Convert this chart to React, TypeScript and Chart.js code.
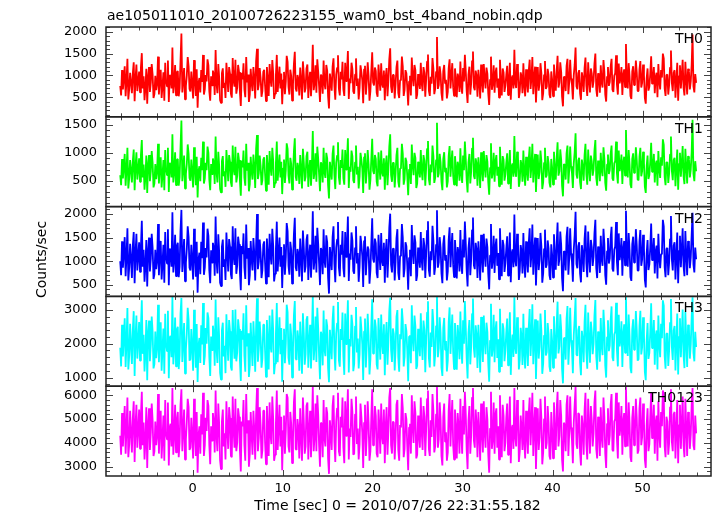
import { useEffect, useRef } from "react";
import { Chart, registerables } from "chart.js";

Chart.register(...registerables);

const chartTitle = "ae105011010_20100726223155_wam0_bst_4band_nobin.qdp";
const xAxisTitle = "Time [sec] 0 = 2010/07/26 22:31:55.182";
const yAxisTitle = "Counts/sec";
const bandNames = ["TH0", "TH1", "TH2", "TH3", "TH0123"];
const bandColors = ["#ff0000", "#00ff00", "#0000ff", "#00ffff", "#ff00ff"];

const startTime = -8.05;
const binSize = 0.1;

const th0 = [
  760, 540, 1120, 680, 940, 1210, 520, 870, 1380, 450, 690, 1060, 830, 590, 1040, 1300, 410, 920, 1250, 640, 870, 1090, 610, 1180, 1510, 700, 980, 430, 720, 1150, 350, 960,
  1190, 620, 840, 1260, 1020, 480, 570, 990, 660, 810, 1430, 560, 910, 1130, 480, 760, 1070, 420, 1290, 880, 750, 1340, 390, 1010, 960, 700, 1640, 590, 820, 1240, 540, 1070,
  1100, 520, 700, 1330, 1960, 610, 880, 1170, 450, 760, 1000, 1420, 1210, 690, 630, 1090, 790, 470, 1350, 900, 530, 1140, 260, 820, 940, 610, 1120, 850, 1470, 560, 680, 1010,
  860, 1370, 1230, 640, 420, 980, 770, 1110, 1010, 550, 1580, 820, 590, 1260, 940, 430, 370, 1050, 1160, 710, 830, 480, 1290, 970, 620, 1190, 1040, 580, 490, 1400, 880, 740,
  1360, 580, 720, 1240, 1080, 620, 300, 1060, 910, 1280, 680, 500, 1420, 840, 1020, 390, 560, 1150, 830, 640, 1190, 930, 470, 1320, 1610, 660, 790, 1170, 950, 510, 640, 1080,
  1130, 760, 410, 1190, 880, 530, 1260, 910, 740, 1350, 1050, 460, 580, 1000, 1470, 620, 930, 1200, 700, 1040, 340, 890, 1080, 570, 860, 1450, 1310, 730, 560, 1130, 990, 420,
  790, 1260, 1540, 700, 630, 1010, 920, 540, 1180, 870, 450, 1320, 1030, 610, 710, 1160, 1250, 480, 880, 1080, 520, 940, 1700, 660, 820, 1230, 600, 1370, 1090, 760, 390, 1020,
  970, 580, 1340, 810, 680, 1240, 1110, 520, 240, 1040, 860, 650, 1200, 1390, 750, 440, 1020, 1170, 1460, 690, 540, 1080, 910, 1310, 680, 530, 1290, 870, 1060, 1560, 460, 930,
  820, 1290, 1150, 630, 580, 1020, 1390, 760, 930, 450, 710, 1230, 1080, 890, 360, 1140, 1220, 560, 860, 1300, 990, 420, 640, 1090, 1530, 840, 770, 1180, 1100, 600, 510, 1250,
  940, 650, 1280, 800, 720, 1110, 430, 960, 1170, 520, 880, 1370, 1620, 740, 600, 1010, 1010, 470, 790, 1190, 1340, 600, 480, 890, 920, 1430, 1200, 530, 670, 1120, 1050, 720,
  310, 860, 990, 540, 1410, 980, 750, 1240, 1120, 460, 560, 1030, 870, 690, 1290, 820, 640, 1190, 1060, 510, 920, 1320, 1480, 650, 530, 970, 810, 1400, 1150, 570, 690, 1080,
  1880, 690, 780, 1210, 1030, 590, 420, 1100, 1240, 820, 900, 470, 620, 1160, 1370, 700, 1010, 1280, 730, 530, 1160, 900, 500, 1040, 940, 620, 1320, 760, 580, 1170, 860, 1470,
  1090, 640, 370, 1020, 1200, 560, 820, 1330, 1550, 730, 660, 1110, 990, 510, 1130, 860, 470, 1250, 880, 610, 1260, 940, 700, 1180, 1040, 580, 320, 900, 1430, 670, 810, 1230,
  600, 1050, 1180, 720, 930, 490, 1360, 840, 540, 1160, 1070, 620, 760, 1010, 1220, 550, 880, 1290, 440, 930, 1000, 700, 1590, 810, 710, 1260, 1140, 480, 630, 1070, 970, 590,
  1280, 780, 520, 1140, 850, 610, 1110, 1360, 690, 930, 1420, 570, 960, 1200, 380, 880, 1190, 650, 820, 1280, 1050, 430, 590, 1010, 1330, 690, 740, 1150, 1010, 560, 480, 1090,
  900, 520, 1250, 870, 650, 1100, 1450, 720, 830, 1300, 1080, 510, 290, 970, 960, 640, 1210, 1380, 570, 860, 1360, 930, 790, 450, 1000, 1240, 1640, 750, 680, 1050, 1120, 590,
  440, 1070, 930, 620, 1170, 1410, 760, 530, 1300, 890, 610, 1160, 1040, 720, 870, 1270, 1500, 680, 510, 1050, 980, 600, 1230, 840, 720, 1350, 1090, 560, 400, 970, 1190, 760,
  850, 1200, 1380, 670, 620, 990, 1050, 1460, 780, 560, 1270, 820, 940, 1190, 550, 1010, 1140, 730, 1720, 910, 700, 1280, 990, 530, 460, 1090, 1210, 780, 880, 1340, 1070, 640,
  640, 1140, 1330, 720, 830, 1250, 1010, 480, 350, 930, 1160, 650, 740, 1030, 1440, 810, 900, 1190, 590, 960, 1060, 500, 1260, 870, 680, 1120, 950, 1500, 1390, 700, 530, 1010,
  1020, 560, 780, 1180, 1570, 830, 640, 1060, 1120, 490, 890, 1290, 420, 980, 1230, 700, 1000, 1360, 720, 540, 1310, 910, 560, 1150, 1090, 680, 860, 1240, 1940, 750, 610, 1030,
  830,
];

const th1 = [
  600, 420, 890, 540, 740, 980, 410, 700, 1090, 360, 550, 870, 680, 470, 850, 1060, 330, 750, 1010, 520, 700, 900, 480, 960, 1230, 560, 790, 340, 570, 950, 280, 780,
  960, 490, 670, 1030, 820, 380, 450, 800, 530, 660, 1160, 450, 730, 920, 380, 610, 870, 330, 1050, 720, 600, 1090, 300, 820, 780, 560, 1330, 470, 650, 1010, 420, 870,
  890, 410, 560, 1080, 1580, 490, 710, 950, 360, 620, 800, 1150, 980, 550, 500, 880, 640, 380, 1100, 730, 420, 930, 200, 670, 760, 490, 910, 690, 1200, 450, 540, 820,
  690, 1110, 1000, 520, 330, 800, 620, 900, 820, 440, 1290, 660, 470, 1020, 760, 350, 290, 850, 940, 580, 670, 390, 1050, 790, 490, 960, 840, 470, 390, 1130, 710, 600,
  1110, 470, 580, 1000, 870, 500, 230, 860, 740, 1040, 550, 410, 1160, 680, 820, 310, 440, 930, 670, 520, 970, 750, 370, 1070, 1320, 530, 630, 950, 770, 420, 510, 880,
  920, 610, 320, 960, 710, 430, 1030, 740, 590, 1090, 850, 370, 460, 810, 1200, 500, 750, 970, 560, 840, 260, 720, 880, 460, 690, 1170, 1070, 590, 450, 910, 800, 340,
  640, 1020, 1260, 570, 500, 820, 740, 440, 960, 700, 360, 1070, 830, 490, 570, 940, 1020, 390, 710, 870, 410, 760, 1390, 530, 660, 990, 480, 1110, 890, 610, 310, 830,
  780, 470, 1090, 650, 550, 1000, 900, 420, 180, 840, 690, 520, 980, 1130, 600, 350, 820, 950, 1190, 560, 430, 870, 730, 1060, 540, 430, 1050, 700, 860, 1260, 370, 750,
  660, 1040, 940, 510, 460, 830, 1130, 610, 750, 360, 570, 1000, 880, 720, 280, 920, 990, 450, 690, 1050, 800, 340, 510, 880, 1250, 680, 620, 960, 890, 480, 400, 1010,
  760, 520, 1040, 650, 580, 900, 340, 770, 950, 420, 710, 1110, 1330, 600, 480, 820, 820, 380, 630, 960, 1090, 490, 380, 720, 740, 1160, 980, 430, 530, 910, 850, 580,
  240, 700, 800, 440, 1150, 790, 600, 1000, 910, 370, 450, 840, 700, 560, 1050, 660, 510, 960, 860, 410, 740, 1070, 1210, 530, 420, 790, 650, 1130, 940, 460, 550, 870,
  1540, 560, 630, 980, 830, 480, 330, 890, 1010, 660, 730, 380, 490, 940, 1120, 570, 820, 1040, 590, 430, 940, 730, 400, 840, 760, 500, 1080, 620, 460, 950, 690, 1200,
  880, 520, 290, 830, 980, 450, 660, 1080, 1270, 590, 530, 900, 800, 410, 920, 700, 370, 1010, 710, 490, 1030, 760, 560, 960, 840, 470, 250, 730, 1170, 540, 650, 1000,
  480, 850, 960, 590, 750, 400, 1110, 680, 430, 940, 870, 500, 610, 820, 990, 450, 710, 1050, 350, 760, 810, 570, 1300, 660, 570, 1020, 930, 390, 500, 870, 780, 480,
  1040, 640, 410, 930, 690, 500, 900, 1110, 550, 760, 1160, 470, 780, 980, 300, 720, 970, 530, 660, 1040, 850, 350, 470, 820, 1090, 560, 600, 940, 820, 460, 380, 890,
  730, 430, 1020, 710, 520, 900, 1190, 590, 670, 1060, 880, 410, 220, 800, 780, 520, 990, 1130, 450, 700, 1110, 760, 640, 370, 810, 1010, 1350, 610, 540, 860, 910, 480,
  350, 880, 750, 500, 960, 1160, 610, 430, 1060, 720, 490, 950, 840, 590, 700, 1040, 1230, 550, 410, 860, 790, 490, 1000, 690, 580, 1100, 890, 460, 320, 790, 970, 620,
  690, 980, 1130, 540, 500, 810, 850, 1200, 630, 450, 1040, 670, 760, 970, 440, 830, 930, 590, 1410, 740, 560, 1050, 800, 430, 370, 890, 990, 640, 710, 1100, 870, 520,
  510, 930, 1090, 580, 670, 1020, 820, 390, 280, 760, 950, 530, 600, 840, 1180, 660, 730, 980, 470, 790, 860, 410, 1030, 710, 550, 920, 770, 1240, 1140, 570, 420, 830,
  830, 460, 630, 970, 1290, 680, 510, 870, 910, 400, 720, 1060, 340, 800, 1000, 570, 810, 1120, 580, 440, 1070, 750, 450, 940, 890, 560, 700, 1010, 1590, 620, 490, 850,
  670,
];

const th2 = [
  1000, 700, 1420, 860, 1190, 1510, 680, 1100, 1700, 590, 870, 1370, 1050, 640, 1330, 1620, 530, 1160, 1580, 800, 1100, 1400, 770, 1290, 1860, 880, 1240, 560, 910, 1450, 460, 1200,
  1500, 780, 1060, 1580, 1290, 620, 720, 1240, 830, 1010, 1790, 700, 1150, 1430, 610, 950, 1350, 540, 1620, 1100, 950, 1680, 490, 1270, 1210, 880, 2040, 760, 1030, 1560, 680, 1320,
  1390, 660, 880, 1640, 2090, 770, 1110, 1470, 570, 960, 1260, 1740, 1510, 860, 800, 1350, 1000, 610, 1690, 1130, 670, 1410, 330, 1030, 1180, 720, 1410, 1060, 1820, 710, 860, 1280,
  1080, 1690, 1540, 800, 530, 1230, 970, 1390, 1270, 690, 1950, 1030, 740, 1570, 1180, 540, 470, 1310, 1460, 880, 1040, 600, 1610, 1190, 780, 1470, 1310, 720, 620, 1740, 1110, 920,
  1700, 730, 910, 1520, 1360, 770, 380, 1320, 1150, 1590, 860, 620, 1780, 1050, 1280, 490, 700, 1430, 1040, 800, 1490, 1160, 590, 1330, 2000, 830, 990, 1460, 1190, 640, 810, 1350,
  1420, 950, 520, 1480, 1110, 660, 1580, 1140, 930, 1690, 1320, 570, 730, 1250, 1840, 780, 1170, 1500, 880, 1300, 430, 1110, 1360, 710, 1080, 1810, 1640, 900, 710, 1410, 1240, 520,
  990, 1570, 1920, 870, 790, 1260, 1160, 670, 1480, 1080, 570, 1650, 1290, 760, 890, 1450, 1570, 600, 1110, 1350, 650, 1170, 2060, 820, 1030, 1540, 760, 1710, 1370, 950, 490, 1280,
  1220, 720, 1680, 1010, 860, 1550, 1400, 650, 310, 1300, 1080, 810, 1510, 1740, 940, 550, 1280, 1460, 1830, 860, 680, 1350, 1140, 1640, 850, 660, 1620, 1090, 1330, 1950, 580, 1160,
  1030, 1610, 1440, 790, 730, 1280, 1740, 950, 1170, 560, 890, 1540, 1360, 1110, 450, 1430, 1530, 700, 1080, 1310, 1240, 520, 800, 1360, 1910, 1050, 970, 1480, 1380, 750, 640, 1560,
  1180, 810, 1600, 1000, 900, 1390, 540, 1200, 1470, 650, 1100, 1710, 2010, 920, 760, 1260, 1270, 590, 990, 1490, 1680, 750, 600, 1110, 1160, 1790, 1500, 660, 840, 1400, 1320, 900,
  390, 1070, 1240, 680, 1770, 1220, 940, 1550, 1400, 580, 700, 1290, 1090, 860, 1620, 1020, 800, 1490, 1330, 640, 1160, 1650, 1850, 810, 670, 1210, 1020, 1750, 1440, 710, 870, 1350,
  2080, 860, 980, 1510, 1290, 740, 530, 1370, 1550, 1020, 1130, 590, 780, 1450, 1720, 870, 1270, 1600, 920, 660, 1450, 1120, 630, 1300, 1180, 780, 1660, 950, 730, 1460, 1080, 1840,
  1370, 800, 460, 1270, 1500, 700, 1030, 1660, 1930, 910, 830, 1390, 1240, 640, 1420, 1080, 590, 1560, 1100, 760, 1580, 1170, 880, 1480, 1300, 720, 400, 1120, 1790, 840, 1020, 1540,
  750, 1310, 1480, 900, 1170, 610, 1700, 1050, 680, 1450, 1340, 770, 950, 1260, 1530, 690, 1100, 1610, 550, 1160, 1250, 870, 1990, 1010, 890, 1580, 1430, 600, 790, 1340, 1210, 740,
  1600, 970, 650, 1420, 1060, 760, 1390, 1700, 870, 1160, 1780, 710, 1200, 1500, 480, 1100, 1490, 810, 1030, 1600, 1320, 540, 740, 1260, 1670, 860, 930, 1440, 1270, 700, 600, 1360,
  1130, 650, 1570, 1090, 820, 1380, 1820, 900, 1040, 1630, 1350, 640, 360, 1210, 1200, 800, 1520, 1730, 710, 1080, 1700, 1160, 990, 560, 1250, 1550, 2050, 940, 850, 1320, 1400, 740,
  550, 1340, 1160, 770, 1470, 1760, 950, 660, 1630, 1110, 760, 1450, 1300, 900, 1090, 1590, 1880, 850, 640, 1310, 1230, 750, 1540, 1050, 900, 1690, 1370, 700, 500, 1210, 1490, 950,
  1060, 1500, 1730, 840, 780, 1240, 1310, 1830, 980, 700, 1590, 1020, 1180, 1490, 690, 1260, 1430, 910, 2070, 1140, 880, 1600, 1240, 660, 580, 1360, 1520, 970, 1100, 1680, 1340, 800,
  800, 1420, 1660, 900, 1040, 1560, 1270, 600, 440, 1160, 1450, 810, 930, 1290, 1800, 1020, 1130, 1490, 740, 1200, 1330, 630, 1580, 1090, 850, 1150, 1190, 1880, 1740, 870, 660, 1260,
  1280, 700, 980, 1470, 1960, 1040, 800, 1330, 1400, 610, 1110, 1610, 530, 1220, 1540, 870, 1250, 1700, 900, 680, 1640, 1140, 700, 1430, 1360, 850, 1080, 1550, 2030, 930, 760, 1290,
  1040,
];

const th3 = [
  1880, 1330, 2560, 1620, 2190, 2750, 1310, 2050, 3050, 1240, 1660, 2590, 1950, 1400, 2400, 2960, 1050, 2150, 2830, 1560, 2040, 2640, 1500, 2480, 3280, 1700, 2260, 1180, 1720, 2700, 920, 2300,
  2680, 1480, 1980, 2800, 2350, 1270, 1400, 2360, 1570, 1900, 3150, 1450, 2110, 2630, 1200, 1860, 2450, 1110, 2880, 1990, 1780, 2970, 980, 2180, 2230, 1600, 3380, 1390, 1920, 2770, 1330, 2420,
  2500, 1250, 1650, 2890, 3350, 1460, 2060, 2610, 1120, 1840, 2300, 3060, 2700, 1500, 1540, 2430, 1870, 1200, 3000, 2090, 1290, 2580, 870, 1940, 2170, 1430, 2540, 1980, 3200, 1370, 1640, 2460,
  2000, 2920, 2750, 1610, 1050, 2210, 1810, 2530, 2290, 1350, 3300, 1850, 1430, 2780, 2180, 1140, 940, 2390, 2620, 1620, 1940, 1130, 2870, 2100, 1500, 2700, 2370, 1310, 1210, 2990, 2060, 1560,
  3010, 1480, 1740, 2720, 2430, 1520, 900, 2380, 2120, 2900, 1640, 1170, 3130, 1920, 2310, 1020, 1350, 2620, 1930, 1340, 2660, 2080, 1170, 2480, 3340, 1470, 1850, 2650, 2190, 1290, 1560, 2560,
  2560, 1760, 1020, 2700, 2060, 1240, 2830, 1930, 1740, 3010, 2380, 1100, 1410, 2290, 3200, 1450, 2160, 2780, 1690, 2460, 880, 2100, 2440, 1420, 2010, 3150, 2930, 1590, 1380, 2590, 2250, 1000,
  1850, 2840, 3260, 1560, 1520, 2390, 2130, 1200, 2650, 1900, 1110, 2900, 2320, 1380, 1690, 2710, 2810, 1290, 2050, 2560, 1270, 2240, 3390, 1510, 1930, 2800, 1460, 3060, 2460, 1630, 950, 2350,
  2240, 1360, 2980, 1830, 1630, 2720, 2520, 1280, 860, 2410, 2000, 1540, 2700, 3120, 1770, 1210, 2300, 2600, 3230, 1510, 1320, 2430, 2110, 2920, 1620, 1080, 2890, 1990, 2400, 3280, 1150, 2140,
  1920, 2850, 2580, 1190, 1400, 2510, 3080, 1740, 2150, 1270, 1700, 2800, 2440, 1990, 930, 2360, 2740, 1300, 2000, 2880, 2240, 1090, 1530, 2510, 3310, 1710, 1820, 2710, 2490, 1390, 1240, 2760,
  2170, 1530, 2860, 2020, 1700, 2570, 1070, 2130, 2640, 1380, 2040, 2960, 3360, 1820, 1460, 2450, 2290, 1210, 1850, 2800, 2990, 1600, 1170, 2280, 2130, 3040, 2670, 1330, 1610, 2580, 2380, 1790,
  890, 2210, 2250, 1420, 3130, 2160, 1780, 2830, 2520, 1250, 1350, 2440, 2010, 1630, 2900, 2050, 1520, 2680, 2390, 1160, 2120, 2920, 3250, 1570, 1300, 2330, 1900, 3020, 2590, 1330, 1680, 2520,
  3380, 1600, 1860, 2780, 2330, 1290, 1050, 2470, 2760, 1820, 2080, 1180, 1500, 2620, 3070, 1700, 2290, 2860, 1740, 1250, 2610, 2010, 1230, 2550, 2170, 1540, 2950, 1900, 1410, 2690, 2000, 3260,
  2460, 1560, 970, 2310, 2700, 1390, 1920, 2880, 3330, 1860, 1590, 2540, 2240, 1280, 2560, 1940, 1150, 2790, 2050, 1460, 2830, 2130, 1690, 2620, 2350, 1400, 880, 2090, 3180, 1620, 1890, 2850,
  1450, 2390, 2660, 1580, 2130, 1170, 3030, 1720, 1310, 2600, 2420, 1480, 1790, 2330, 2740, 1360, 2030, 2930, 1080, 1950, 2270, 1610, 3370, 1880, 1700, 2780, 2570, 1240, 1520, 2470, 2200, 1370,
  2880, 1730, 1270, 2470, 1960, 1340, 2490, 3020, 1640, 2210, 3160, 1390, 2170, 2720, 960, 2000, 2680, 1560, 1910, 2890, 2380, 1110, 1410, 2240, 2990, 1650, 1750, 2610, 2290, 1320, 1170, 2430,
  2060, 1290, 2810, 1990, 1560, 2540, 3240, 1710, 1930, 2870, 2430, 1250, 830, 2150, 2180, 1530, 2730, 3110, 1380, 1980, 3060, 2100, 1840, 1130, 2250, 2740, 3350, 1680, 1640, 2400, 2520, 1440,
  1070, 2380, 2110, 1450, 2640, 3150, 1760, 1260, 2920, 2060, 1440, 2650, 2340, 1690, 1990, 2830, 3290, 1620, 1230, 2360, 2220, 1470, 2760, 1930, 1660, 3000, 2460, 1350, 1000, 2190, 2690, 1780,
  1940, 2690, 3100, 1600, 1490, 2270, 2360, 3210, 1810, 1330, 2850, 1920, 2140, 2660, 1310, 2280, 2570, 1730, 3390, 2050, 1640, 2860, 2230, 1290, 1130, 2420, 2720, 1820, 2020, 2960, 2410, 1500,
  1540, 2520, 2970, 1680, 1900, 2780, 2290, 1160, 920, 2090, 2610, 1550, 1730, 2340, 3190, 1870, 2080, 2700, 1380, 2210, 2390, 1240, 2830, 1990, 1600, 2590, 2160, 3280, 3120, 1640, 1260, 2290,
  2310, 1340, 1810, 2620, 3320, 1900, 1520, 2390, 2520, 1210, 2040, 2890, 1090, 2200, 2750, 1600, 2250, 3010, 1670, 1280, 2940, 2070, 1310, 2560, 2440, 1560, 1970, 2780, 3370, 1730, 1480, 2350,
  1900,
];

const th0123 = [
  4300, 3500, 5250, 3850, 4750, 5550, 3550, 4600, 5900, 3400, 3950, 5350, 4400, 3600, 5050, 5750, 3200, 4700, 5600, 3800, 4550, 5400, 3750, 5150, 6150, 3900, 4850, 3300, 4050, 5500, 2950, 4750,
  5450, 3700, 4450, 5650, 4950, 3450, 3650, 4900, 3900, 4300, 6050, 3550, 4650, 5350, 3350, 4200, 5150, 3250, 5800, 4400, 4150, 5700, 3050, 4650, 4800, 3850, 6300, 3500, 4350, 5600, 3600, 4950,
  5300, 3400, 4000, 5600, 6250, 3650, 4600, 5400, 3300, 4150, 4900, 5850, 5500, 3700, 3800, 5050, 4250, 3350, 5850, 4450, 3450, 5300, 2750, 4300, 4700, 3550, 5200, 4350, 6100, 3450, 3900, 5050,
  4500, 5800, 5550, 3900, 3100, 4700, 4100, 5250, 4850, 3600, 6200, 4300, 3650, 5650, 4750, 3250, 2900, 4900, 5400, 3850, 4400, 3300, 5750, 4550, 3750, 5500, 5050, 3450, 3400, 5950, 4550, 3800,
  5850, 3650, 4000, 5450, 5100, 3700, 2800, 4900, 4700, 5800, 3900, 3250, 6050, 4400, 4950, 3000, 3550, 5300, 4350, 3500, 5350, 4550, 3300, 5200, 6300, 3650, 4200, 5500, 4750, 3350, 3700, 5350,
  5350, 4000, 3100, 5550, 4550, 3450, 5700, 4350, 3950, 5950, 5000, 3250, 3500, 4800, 6200, 3700, 4650, 5600, 3850, 5100, 2850, 4500, 5150, 3550, 4500, 6050, 5900, 3850, 3600, 5300, 4800, 3150,
  4150, 5700, 6250, 3750, 3700, 5000, 4600, 3350, 5450, 4250, 3250, 5900, 4950, 3550, 3850, 5550, 5700, 3300, 4500, 5350, 3400, 4700, 6350, 3650, 4300, 5650, 3650, 6000, 5200, 3900, 3000, 4850,
  4800, 3400, 5800, 4200, 3850, 5500, 5250, 3350, 2700, 4950, 4450, 3700, 5550, 6000, 4050, 3200, 4900, 5450, 6100, 3650, 3450, 5100, 4650, 5900, 3800, 3150, 5750, 4300, 5050, 6250, 3300, 4600,
  4250, 5850, 5300, 3500, 3550, 5200, 5950, 3950, 4600, 3300, 3950, 5650, 5100, 4450, 2950, 4850, 5600, 3450, 4400, 5750, 4850, 3250, 3650, 5050, 6250, 3900, 4100, 5550, 5150, 3550, 3400, 5400,
  4700, 3550, 5650, 4300, 3950, 5400, 3150, 4650, 5500, 3500, 4500, 5900, 6300, 3900, 3550, 4900, 4850, 3300, 4200, 5600, 5800, 3700, 3250, 4750, 4650, 6050, 5450, 3400, 3750, 5250, 5000, 3850,
  2850, 4650, 4800, 3550, 6000, 4700, 4000, 5750, 5250, 3350, 3500, 5150, 4350, 3800, 5900, 4500, 3700, 5550, 5100, 3450, 4600, 5850, 6200, 3750, 3450, 4950, 4250, 6050, 5350, 3600, 3850, 5200,
  6350, 3800, 4150, 5700, 5000, 3450, 3050, 5100, 5650, 4050, 4450, 3250, 3600, 5350, 6050, 3850, 4950, 5800, 3900, 3300, 5400, 4600, 3350, 5250, 4650, 3550, 5850, 4400, 3550, 5550, 4350, 6150,
  5200, 3700, 2900, 4950, 5550, 3550, 4300, 5900, 6300, 4100, 3800, 5400, 4800, 3400, 5300, 4350, 3250, 5650, 4500, 3600, 5750, 4450, 3800, 5500, 5000, 3500, 2750, 4600, 6150, 3750, 4150, 5700,
  3550, 5200, 5450, 3800, 4700, 3300, 6000, 4050, 3400, 5600, 5150, 3650, 4000, 5050, 5650, 3500, 4450, 5950, 3150, 4600, 4750, 3750, 6300, 4250, 3850, 5800, 5350, 3200, 3650, 5150, 4600, 3700,
  5800, 4050, 3350, 5350, 4400, 3550, 5250, 5900, 3900, 4850, 6100, 3450, 4700, 5500, 2900, 4450, 5450, 3700, 4250, 5850, 5050, 3100, 3600, 5000, 5950, 3750, 4000, 5550, 4900, 3450, 3300, 5300,
  4550, 3350, 5700, 4350, 3700, 5400, 6150, 3850, 4300, 5800, 5150, 3300, 2800, 4850, 4750, 3650, 5600, 6000, 3450, 4500, 5950, 4650, 4100, 3150, 4850, 5600, 6350, 3950, 3750, 5250, 5200, 3600,
  3050, 5150, 4650, 3500, 5350, 6100, 3950, 3300, 5850, 4600, 3550, 5550, 4950, 3850, 4400, 5700, 6200, 3750, 3350, 5100, 4700, 3450, 5500, 4250, 3800, 5900, 5100, 3550, 2950, 4800, 5450, 3900,
  4300, 5600, 6050, 3700, 3650, 4900, 5000, 6100, 4150, 3350, 5700, 4300, 4750, 5550, 3500, 4900, 5250, 3850, 6350, 4500, 3850, 5700, 4850, 3400, 3200, 5050, 5550, 3900, 4450, 5850, 5050, 3550,
  3700, 5450, 5900, 3900, 4250, 5650, 4950, 3300, 2950, 4750, 5450, 3650, 3950, 5100, 6100, 4200, 4600, 5600, 3550, 4850, 5150, 3250, 5750, 4400, 3800, 5300, 4700, 6200, 6050, 3850, 3400, 5100,
  4900, 3500, 4000, 5500, 6250, 4050, 3650, 5200, 5300, 3350, 4550, 5800, 3150, 4750, 5600, 3750, 4800, 5950, 3900, 3400, 5850, 4650, 3450, 5300, 5050, 3750, 4350, 5600, 6300, 3900, 3700, 5150,
  4400,
];

const bandSeries = [th0, th1, th2, th3, th0123];
const yMins = [50, 36, 250, 745, 2610];
const yMaxs = [2110, 1645, 2160, 3395, 6380];
const yMajorSteps = [500, 500, 500, 1000, 1000];
const yMinorSteps = [100, 100, 100, 200, 200];
const xMin = -9.63;
const xMax = 57.6;
const xMajorStep = 10;
const xMinorStep = 2;

const FONT = "'DejaVu Sans', sans-serif";

function stepTicks(scale: any, step: number) {
  const out: { value: number }[] = [];
  for (let v = Math.ceil(scale.min / step) * step; v <= scale.max + 1e-9; v += step) {
    out.push({ value: Math.round(v * 1000) / 1000 });
  }
  scale.ticks = out;
}

const framePlugin = {
  id: "qdpFrame",
  afterDraw(chart: any) {
    const ctx = chart.ctx as CanvasRenderingContext2D;
    const xs = chart.scales.x;
    const left = chart.chartArea.left;
    const right = chart.chartArea.right;
    ctx.save();
    ctx.strokeStyle = "#444";
    ctx.lineWidth = 1;
    for (let i = 0; i < bandNames.length; i++) {
      const ys = chart.scales["y" + i];
      const top = ys.top;
      const bottom = ys.bottom;
      ctx.beginPath();
      const minor = yMinorSteps[i];
      const major = yMajorSteps[i];
      for (let v = Math.ceil(ys.min / minor) * minor; v <= ys.max; v += minor) {
        const p = Math.round(ys.getPixelForValue(v)) + 0.5;
        const len = v % major === 0 ? 7 : 4;
        ctx.moveTo(left, p);
        ctx.lineTo(left + len, p);
        ctx.moveTo(right, p);
        ctx.lineTo(right - len, p);
      }
      for (let v = Math.ceil(xs.min / xMinorStep) * xMinorStep; v <= xs.max; v += xMinorStep) {
        const p = Math.round(xs.getPixelForValue(v)) + 0.5;
        const len = Math.abs(v % xMajorStep) < 1e-9 ? 6 : 3.5;
        ctx.moveTo(p, top);
        ctx.lineTo(p, top + len);
        ctx.moveTo(p, bottom);
        ctx.lineTo(p, bottom - len);
      }
      ctx.stroke();
    }
    ctx.strokeStyle = "#222";
    ctx.lineWidth = 1.5;
    for (let i = 0; i < bandNames.length; i++) {
      const ys = chart.scales["y" + i];
      ctx.strokeRect(left, ys.top, right - left, ys.bottom - ys.top);
    }
    ctx.fillStyle = "#000";
    ctx.font = "14px " + FONT;
    ctx.textAlign = "right";
    ctx.textBaseline = "alphabetic";
    for (let i = 0; i < bandNames.length; i++) {
      const ys = chart.scales["y" + i];
      ctx.fillText(bandNames[i], right - 8, ys.top + 16);
    }
    ctx.textAlign = "left";
    ctx.fillText(chartTitle, 107, 20);
    ctx.textAlign = "center";
    ctx.fillText(xAxisTitle, 397.5, 510);
    ctx.translate(45.5, 259.5);
    ctx.rotate(-Math.PI / 2);
    ctx.fillText(yAxisTitle, 0, 0);
    ctx.restore();
  },
};

export default function App() {
  const canvasRef = useRef<HTMLCanvasElement | null>(null);

  useEffect(() => {
    const canvas = canvasRef.current;
    if (!canvas) return;

    const datasets = bandSeries.map((series, i) => ({
      label: bandNames[i],
      data: series.map((v, k) => ({ x: startTime + k * binSize, y: v })),
      borderColor: bandColors[i],
      backgroundColor: bandColors[i],
      borderWidth: 1.8,
      borderJoinStyle: "bevel" as const,
      pointRadius: 0,
      tension: 0,
      fill: false,
      yAxisID: "y" + i,
      xAxisID: "x",
    }));

    const scales: any = {
      x: {
        type: "linear",
        position: "bottom",
        min: xMin,
        max: xMax,
        afterBuildTicks: (s: any) => stepTicks(s, xMajorStep),
        afterFit: (s: any) => {
          s.height = 40;
        },
        grid: { display: false, drawTicks: false },
        border: { display: false },
        ticks: {
          padding: 5,
          color: "#000",
          font: { family: FONT, size: 13 },
          maxRotation: 0,
          autoSkip: false,
          callback: (v: any) => String(v),
        },
      },
    };
    bandNames.forEach((_, i) => {
      scales["y" + i] = {
        type: "linear",
        position: "left",
        stack: "bands",
        stackWeight: 1,
        weight: bandNames.length - i,
        min: yMins[i],
        max: yMaxs[i],
        afterBuildTicks: (s: any) => stepTicks(s, yMajorSteps[i]),
        afterFit: (s: any) => {
          s.width = 106;
        },
        grid: { display: false, drawTicks: false },
        border: { display: false },
        ticks: {
          padding: 9,
          color: "#000",
          autoSkip: false,
          font: { family: FONT, size: 13 },
          callback: (v: any) => String(v),
        },
      };
    });

    const chart = new Chart(canvas, {
      type: "line",
      data: { datasets },
      options: {
        animation: false,
        responsive: false,
        devicePixelRatio: 1,
        parsing: false as any,
        normalized: true,
        layout: { padding: { left: 0, right: 6, top: 27, bottom: 0 } },
        plugins: {
          legend: { display: false },
          tooltip: { enabled: false },
          title: { display: false },
        },
        scales,
      },
      plugins: [framePlugin],
    });

    return () => chart.destroy();
  }, []);

  return (
    <div style={{ position: "fixed", left: 0, top: 0, width: 717, height: 516, background: "#fff" }}>
      <canvas ref={canvasRef} width={717} height={516} style={{ width: 717, height: 516, display: "block" }} />
    </div>
  );
}
